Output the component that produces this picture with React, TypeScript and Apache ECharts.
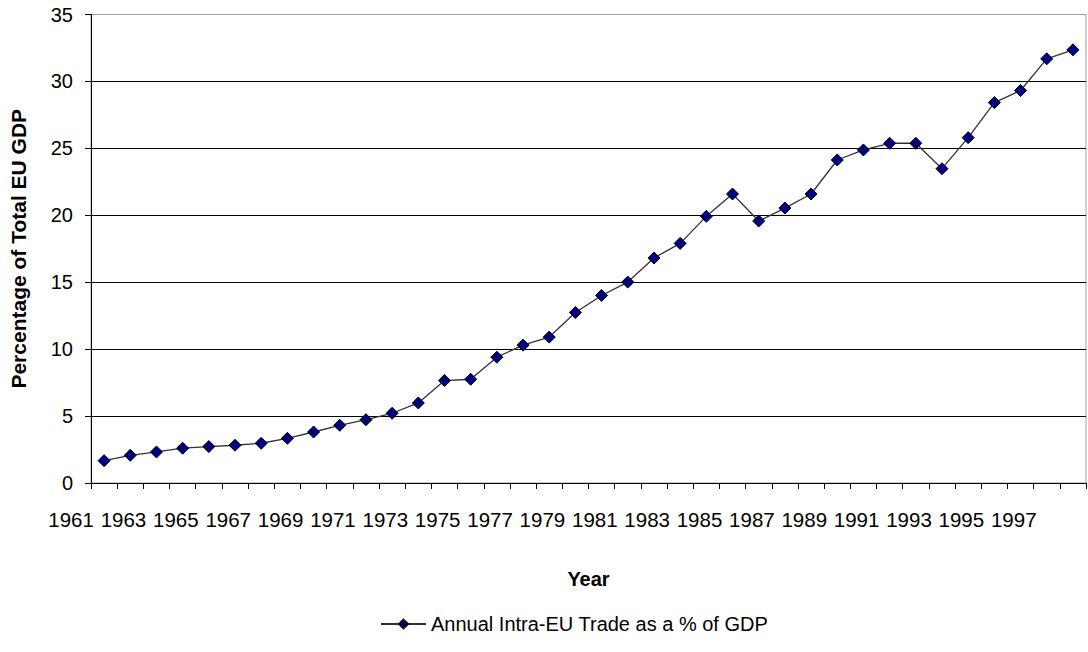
import React, { useEffect, useRef } from "react";
import * as echarts from "echarts";

const years: string[] = [
  "1961", "1962", "1963", "1964", "1965", "1966", "1967", "1968", "1969", "1970",
  "1971", "1972", "1973", "1974", "1975", "1976", "1977", "1978", "1979", "1980",
  "1981", "1982", "1983", "1984", "1985", "1986", "1987", "1988", "1989", "1990",
  "1991", "1992", "1993", "1994", "1995", "1996", "1997", "1998",
];

const tradeShare: number[] = [
  1.67, 2.07, 2.32, 2.6, 2.72, 2.82, 2.97, 3.34, 3.81, 4.31,
  4.73, 5.21, 5.98, 7.65, 7.75, 9.4, 10.3, 10.9, 12.74, 14.01,
  15.01, 16.81, 17.9, 19.92, 21.59, 19.57, 20.54, 21.59, 24.13, 24.88,
  25.38, 25.38, 23.48, 25.8, 28.42, 29.32, 31.69, 32.36,
];

const seriesName = "Annual Intra-EU Trade as a % of GDP";
const xTitle = "Year";
const yTitle = "Percentage of Total EU GDP";

const FONT = "'Liberation Sans', Arial, sans-serif";

export default function App() {
  const ref = useRef<HTMLDivElement>(null);

  useEffect(() => {
    if (!ref.current) return;
    const chart = echarts.init(ref.current, undefined, { renderer: "svg" });
    chart.setOption({
      animation: false,
      backgroundColor: "#ffffff",
      textStyle: { fontFamily: FONT, color: "#000" },
      grid: {
        left: 89,
        right: 2,
        top: 14.5,
        bottom: 169,
        show: true,
        borderColor: "#a0a0a0",
        borderWidth: 1,
      },
      legend: {
        top: 609,
        left: 375,
        itemWidth: 45,
        itemHeight: 11,
        itemGap: 6,
        textStyle: { fontFamily: FONT, fontSize: 20, color: "#000" },
        data: [seriesName],
      },
      xAxis: {
        type: "category",
        data: years,
        boundaryGap: true,
        name: xTitle,
        nameLocation: "middle",
        nameGap: 86,
        nameTextStyle: { fontFamily: FONT, fontSize: 20, fontWeight: "bold", color: "#000" },
        axisLine: { show: true, lineStyle: { color: "#000", width: 1 } },
        axisTick: { show: true, interval: 0, length: 6, inside: false, lineStyle: { color: "#000" } },
        axisLabel: {
          interval: 1,
          margin: 26,
          fontFamily: FONT,
          fontSize: 20.5,
          color: "#000",
          align: "center",
          padding: [0, 66, 0, 0],
        },
        splitLine: { show: false },
      },
      yAxis: {
        type: "value",
        min: 0,
        max: 35,
        interval: 5,
        name: yTitle,
        nameLocation: "middle",
        nameGap: 62,
        nameTextStyle: { fontFamily: FONT, fontSize: 21, fontWeight: "bold", color: "#000" },
        axisLine: { show: true, lineStyle: { color: "#000", width: 1 } },
        axisTick: { show: true, length: 6, inside: false, lineStyle: { color: "#000" } },
        axisLabel: { margin: 18, fontFamily: FONT, fontSize: 20, color: "#000" },
        splitLine: {
          show: true,
          lineStyle: {
            color: ["#000", "#000", "#000", "#000", "#000", "#000", "#000", "#a0a0a0"],
            width: 1,
          },
        },
      },
      series: [
        {
          name: seriesName,
          type: "line",
          data: tradeShare,
          symbol: "diamond",
          symbolSize: 12,
          showAllSymbol: true,
          lineStyle: { color: "#333333", width: 1.3 },
          itemStyle: { color: "#000080", borderColor: "#000", borderWidth: 1 },
          emphasis: { disabled: true },
        },
      ],
    });
    return () => chart.dispose();
  }, []);

  return (
    <div
      ref={ref}
      style={{ position: "fixed", left: 0, top: 0, width: 1088, height: 652 }}
    />
  );
}
